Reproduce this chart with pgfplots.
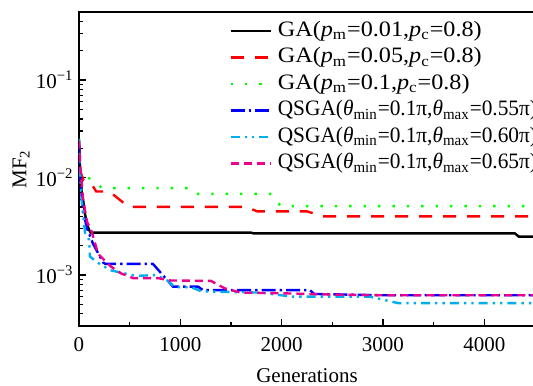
\documentclass[border=0pt]{standalone}
\usepackage{fontspec}
\setmainfont{Liberation Serif}
\newfontfamily\legfont[FakeStretch=1.1]{Liberation Serif}
\newfontfamily\legfontq[FakeStretch=0.97]{Liberation Serif}
\usepackage{pgfplots}
\pgfplotsset{compat=1.18}
\begin{document}
\fontsize{10.5}{12}\selectfont
\begin{tikzpicture}
\begin{axis}[
  at={(0,0)}, anchor=south west,
  width=228pt, height=157pt, scale only axis,
  xmin=0, xmax=4500, ymode=log, ymin=3e-4, ymax=0.5,
  xtick={0,1000,2000,3000,4000}, minor x tick num=1,
  ytick={1e-4,1e-3,1e-2,1e-1,1},
  yticklabels={10\textsuperscript{\char"2212 4},10\textsuperscript{\char"2212 3},10\textsuperscript{\char"2212 2},10\textsuperscript{\char"2212 1},1},
  /pgf/number format/assume math mode=true,
  /pgf/number format/1000 sep={},
  tick align=inside, tick pos=left,
  major tick length=3.5pt, minor tick length=2pt,
  axis line style={line width=0.8pt},
  major tick style={line width=0.7pt, black},
  minor tick style={line width=0.6pt, black},
  xticklabel style={yshift=-2pt},
  yticklabel style={xshift=1pt},
  xlabel={Generations}, ylabel={MF\textsubscript{2}},
  xlabel style={yshift=-1.5pt},
  ylabel style={yshift=-4pt},
  legend cell align=left,
  legend style={at={(0.329,0.981)}, anchor=north west, draw=none, fill=none,
    font=\legfont\fontsize{11}{13}\selectfont, inner sep=0pt, row sep=0.45pt,
    nodes={inner sep=1pt, text height=8pt, text depth=2.8pt},
    /tikz/every odd column/.append style={column sep=2pt}},
  legend image code/.code={\draw[#1] (0pt,0pt) -- (20pt,0pt);},
  every axis plot/.append style={line width=1.2pt},
]
\addplot[black] coordinates {(0,0.024) (10,0.012) (25,0.0075) (45,0.0055) (60,0.0042) (80,0.0033) (100,0.0029) (115,0.00272) (1700,0.00272) (1720,0.00268) (4300,0.00268) (4340,0.00248) (4500,0.00248)};
\addlegendentry{GA(\textit{p}\textsubscript{m}=0.01,\textit{p}\textsubscript{c}=0.8)}
\addplot[red, dash pattern=on 6.5pt off 5.5pt] coordinates {(0,0.022) (20,0.011) (45,0.0094) (130,0.0084) (170,0.0072) (300,0.0072) (490,0.0050) (1650,0.0050) (1760,0.0045) (2250,0.0045) (2410,0.0040) (4500,0.0040)};
\addlegendentry{GA(\textit{p}\textsubscript{m}=0.05,\textit{p}\textsubscript{c}=0.8)}
\addplot[green, dash pattern=on 1.2pt off 6pt] coordinates {(0,0.025) (20,0.011) (60,0.0102) (150,0.0094) (225,0.0078) (1100,0.0078) (1150,0.0068) (1900,0.0068) (1990,0.0051) (4500,0.0051)};
\addlegendentry{GA(\textit{p}\textsubscript{m}=0.1,\textit{p}\textsubscript{c}=0.8)}
\addplot[blue, dash pattern=on 7pt off 2pt on 1.2pt off 2pt] coordinates {(0,0.022) (15,0.009) (40,0.0045) (80,0.003) (138,0.0021) (237,0.00135) (260,0.0013) (730,0.0013) (928,0.00076) (1175,0.00076) (1224,0.0007) (2280,0.0007) (2320,0.00064) (3000,0.00062) (4500,0.00062)};
\addlegendentry{{\legfontq QSGA(\textit{θ}\textsubscript{min}=0.1π,\textit{θ}\textsubscript{max}=0.55π)}}
\addplot[cyan, dash pattern=on 4.5pt off 2.5pt on 1.2pt off 2.5pt on 1.2pt off 2.5pt] coordinates {(0,0.025) (10,0.012) (25,0.006) (60,0.0027) (100,0.0023) (108,0.00155) (180,0.00135) (310,0.00112) (560,0.00098) (760,0.001) (880,0.00087) (945,0.00075) (1110,0.00075) (1208,0.00068) (1800,0.00066) (2100,0.0006) (2870,0.0006) (3150,0.000515) (4500,0.000515)};
\addlegendentry{{\legfontq QSGA(\textit{θ}\textsubscript{min}=0.1π,\textit{θ}\textsubscript{max}=0.60π)}}
\addplot[magenta, dash pattern=on 4pt off 2.5pt] coordinates {(0,0.024) (15,0.012) (40,0.006) (80,0.0035) (125,0.0028) (188,0.00165) (316,0.00122) (415,0.00104) (533,0.00093) (780,0.00093) (900,0.00088) (1303,0.00087) (1438,0.00073) (1600,0.00066) (2000,0.00065) (2500,0.00063) (3000,0.00062) (4500,0.00062)};
\addlegendentry{{\legfontq QSGA(\textit{θ}\textsubscript{min}=0.1π,\textit{θ}\textsubscript{max}=0.65π)}}
\end{axis}
\pgfresetboundingbox
\useasboundingbox (-39.5pt,-29.5pt) rectangle (227pt,163pt);
\end{tikzpicture}
\end{document}
